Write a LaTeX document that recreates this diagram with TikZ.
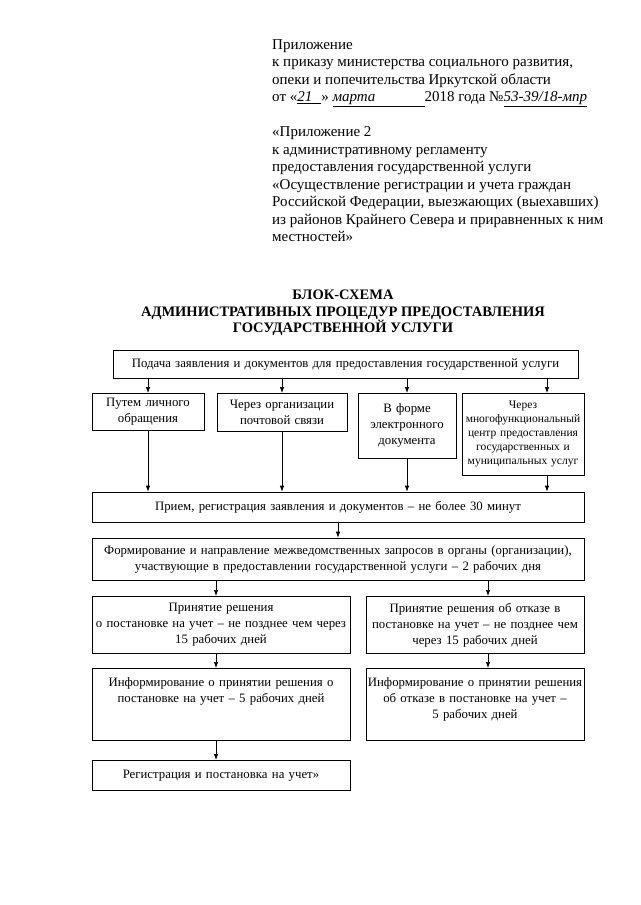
\documentclass[tikz,border=0pt]{standalone}
\usepackage{fontspec}
\setmainfont{Liberation Serif}
\usetikzlibrary{shapes,arrows,arrows.meta,positioning,calc}
\tikzstyle{blok} = [rectangle, draw, line width=0.7pt, inner sep=2pt, align=center, font=\fontsize{12.8}{16}\selectfont]
\tikzstyle{melko} = [font=\fontsize{11.5}{14}\selectfont]
\tikzstyle{line} = [draw, line width=0.7pt, -{Latex[length=6pt, width=4.5pt]}]

\begin{document}
\begin{tikzpicture}[x=1pt, y=1pt]
		\useasboundingbox (0,0) rectangle (640,-905);
		% Header
		\node[anchor=north west, align=left, inner sep=0pt, font=\fontsize{15}{17.5}\selectfont] (Header) at (272,-39) {Приложение\\
			к приказу министерства социального развития,\\
			опеки и попечительства Иркутской области\\
			от «\underline{\makebox[24pt][l]{\itshape 21}}» \underline{\makebox[92pt][l]{\itshape марта}}2018 года №\underline{\itshape 53-39/18-мпр}\\[17.5pt]
			«Приложение 2\\
			к административному регламенту\\
			предоставления государственной услуги\\
			«Осуществление регистрации и учета граждан\\
			Российской Федерации, выезжающих (выехавших)\\
			из районов Крайнего Севера и приравненных к ним\\
			местностей»};
		\node[anchor=north, align=center, inner sep=0pt, font=\fontsize{14.5}{16.5}\selectfont\bfseries] (Title) at (343,-290) {БЛОК-СХЕМА\\АДМИНИСТРАТИВНЫХ ПРОЦЕДУР ПРЕДОСТАВЛЕНИЯ\\ГОСУДАРСТВЕННОЙ УСЛУГИ};
		
		% Row 1
		\node[blok, text width=461, minimum height=28] (Podacha) at (345.5,-364) {Подача заявления и документов для предоставления государственной услуги};
		
		% Row 2
		\node[blok, anchor=north, text width=108, minimum height=37] (Lichno) at (148,-393) {Путем личного\\обращения};
		\node[blok, anchor=north, text width=126, minimum height=38] (Pochta) at (282,-393) {Через организации\\почтовой связи};
		\node[blok, anchor=north, text width=94, minimum height=65] (Elektron) at (407,-393) {В форме\\электронного\\документа};
		\node[blok, melko, anchor=north, text width=118, minimum height=82] (Mfc) at (523,-393) {Через\\многофункциональный\\центр предоставления\\государственных и\\муниципальных услуг};
		
		% Row 3
		\node[blok, text width=488, minimum height=30] (Priem) at (338,-507) {Прием, регистрация заявления и документов – не более 30 минут};
		\node[blok, text width=488, minimum height=42] (Zaprosy) at (338,-559) {Формирование и направление межведомственных запросов в органы (организации),\\участвующие в предоставлении государственной услуги – 2 рабочих дня};
		
		% Row 4
		\node[blok, anchor=north, text width=254, minimum height=57] (Reshenie) at (221,-596) {Принятие решения\\о постановке на учет – не позднее чем через\\15 рабочих дней};
		\node[blok, inner xsep=1pt, text width=216, minimum height=57, right of = Reshenie, node distance = 254] (Otkaz) {Принятие решения об отказе в\\постановке на учет – не позднее чем\\через 15 рабочих дней};
		
		% Row 5
		\node[blok, anchor=north, text width=254, text height=16, text depth=52] (InfoReshenie) at (221,-668) {Информирование о принятии решения о\\постановке на учет – 5 рабочих дней};
		\node[blok, inner xsep=1pt, text width=216, text height=16, text depth=52, right of = InfoReshenie, node distance = 254] (InfoOtkaz) {Информирование о~принятии решения\\об отказе в постановке на учет –\\5 рабочих дней};
		
		% Row 6
		\node[blok, anchor=north, text width=254, minimum height=30] (Uchet) at (221,-760) {Регистрация и постановка на учет»};
		
		% Paths
		\coordinate (MfcVhod) at ([xshift=24]Mfc.north);
		\coordinate (MfcVyhod) at ([xshift=24]Mfc.south);
		\path [line] (Podacha.south -| Lichno.north) -- (Lichno.north);
		\path [line] (Podacha.south -| Pochta.north) -- (Pochta.north);
		\path [line] (Podacha.south -| Elektron.north) -- (Elektron.north);
		\path [line] (Podacha.south -| MfcVhod) -- (MfcVhod);
		\path [line] (Lichno.south) -- (Lichno.south |- Priem.north);
		\path [line] (Pochta.south) -- (Pochta.south |- Priem.north);
		\path [line] (Elektron.south) -- (Elektron.south |- Priem.north);
		\path [line] (MfcVyhod) -- (MfcVyhod |- Priem.north);
		\path [line] (Priem.south) -- (Zaprosy.north);
		\path [line] ([xshift=-5]Zaprosy.south -| Reshenie.north) -- ([xshift=-5]Reshenie.north);
		\path [line] ([xshift=13]Zaprosy.south -| Otkaz.north) -- ([xshift=13]Otkaz.north);
		\path [line] ([xshift=-5]Reshenie.south) -- ([xshift=-5]InfoReshenie.north);
		\path [line] ([xshift=13]Otkaz.south) -- ([xshift=13]InfoOtkaz.north);
		\path [line] ([xshift=-5]InfoReshenie.south) -- ([xshift=-5]Uchet.north);
		
	\end{tikzpicture}
\end{document}
